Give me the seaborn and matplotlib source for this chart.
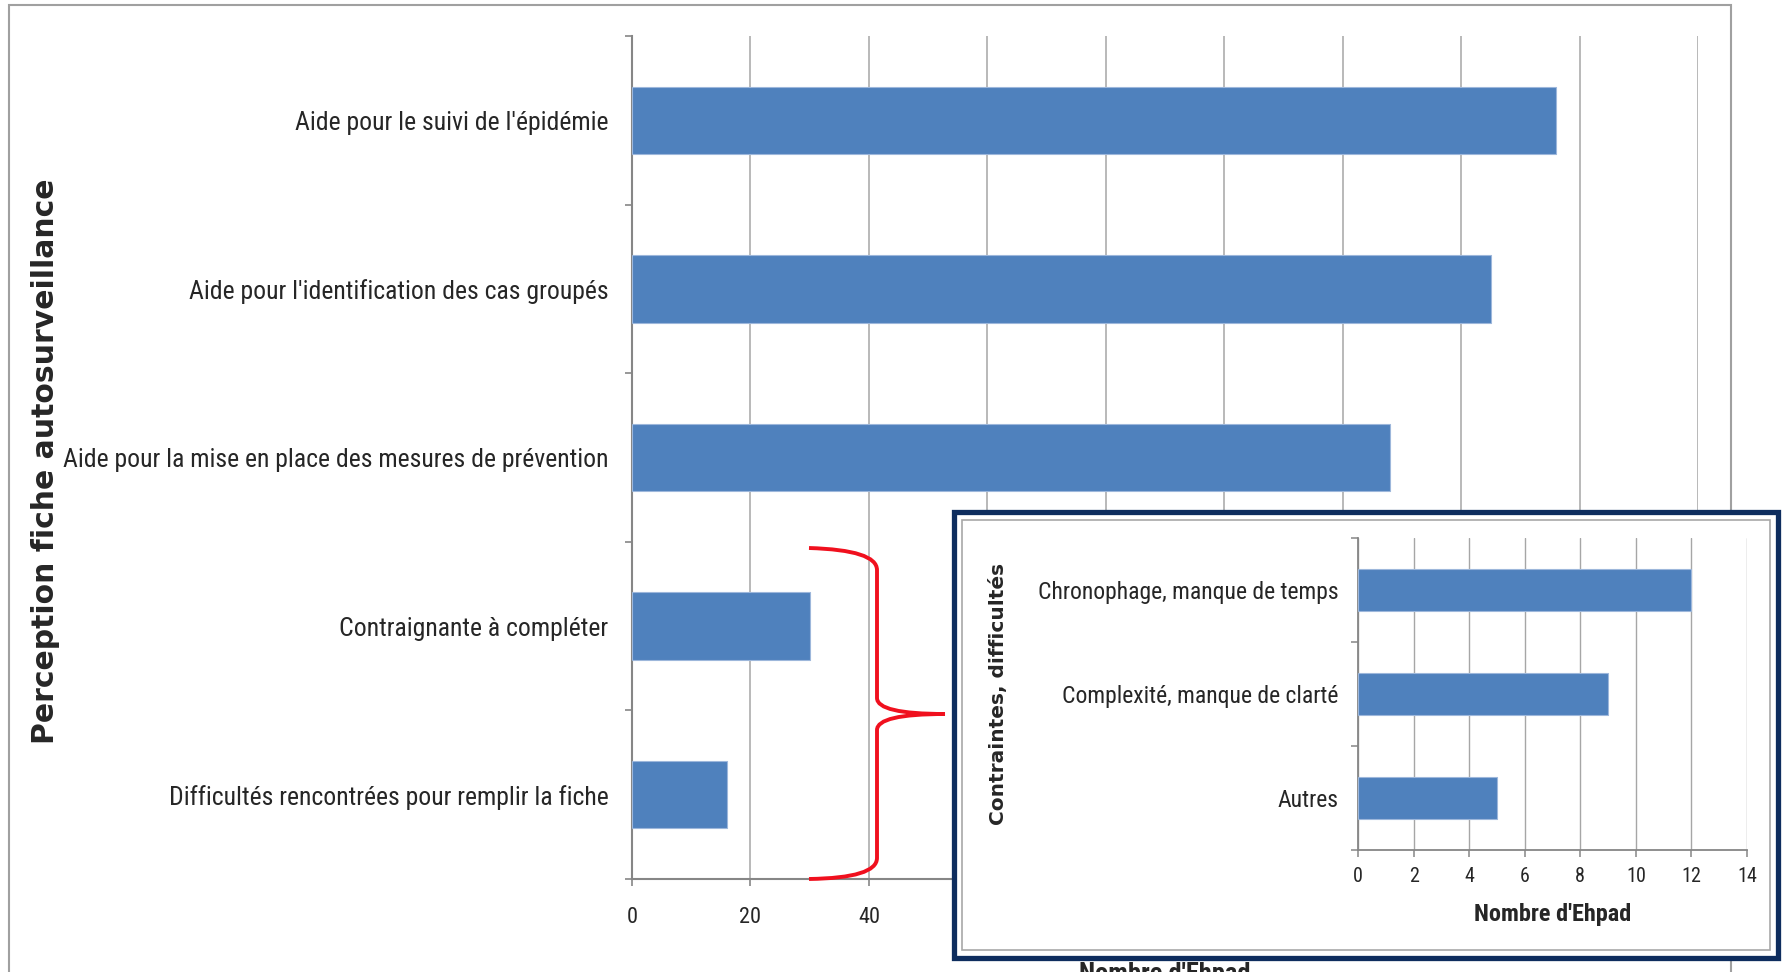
import matplotlib
matplotlib.use("Agg")
import matplotlib.pyplot as plt
from matplotlib import font_manager
from matplotlib.font_manager import FontProperties
from matplotlib.patches import Rectangle, PathPatch
from matplotlib.path import Path
from matplotlib.ticker import MultipleLocator, FixedLocator
import seaborn as sns

# ── data ──────────────────────────────────────────────────────────────────────
main_labels = [
    "Aide pour le suivi de l'épidémie",
    "Aide pour l'identification des cas groupés",
    "Aide pour la mise en place des mesures de prévention",
    "Contraignante à compléter",
    "Difficultés rencontrées pour remplir la fiche",
]
main_values = [156, 145, 128, 30, 16]

inset_labels = [
    "Chronophage, manque de temps",
    "Complexité, manque de clarté",
    "Autres",
]
inset_values = [12, 9, 5]

BAR = "#4F81BD"
GRID = "#A6A6A6"
AXC = "#868686"

W, H = 1785, 972

sns.set_style("white")
plt.rcParams["font.family"] = ["Liberation Sans", "DejaVu Sans"]


# ── look for a narrow / condensed face (Excel uses Calibri-like narrow text) ──
def _is_narrow(f):
    st = f.stretch
    if isinstance(st, str):
        return "condensed" in st or "Narrow" in f.name or "Condensed" in f.name
    return st < 500 or "Narrow" in f.name or "Condensed" in f.name


def _wt(f):
    w = f.weight
    if isinstance(w, str):
        return 700 if "bold" in w.lower() else 400
    return w


narrow = [f for f in font_manager.fontManager.ttflist
          if _is_narrow(f) and f.style == "normal"]
pref = ["Liberation Sans Narrow", "Roboto Condensed", "Open Sans Condensed",
        "Noto Sans", "DejaVu Sans", "Lato", "Inter"]


def pick(bold):
    best = None
    for name in pref + [None]:
        for f in narrow:
            if name is not None and not f.name.startswith(name):
                continue
            w = _wt(f)
            if (bold and 600 <= w <= 800) or (not bold and 350 <= w <= 450):
                return f.fname
            if best is None:
                best = f.fname
    return best


reg_file = pick(False)
bold_file = pick(True)
k = 1.0 if reg_file else 0.9


def fp(size, bold=False):
    f = bold_file if bold else reg_file
    if f:
        return FontProperties(fname=f, size=size)
    return FontProperties(family="Liberation Sans", size=size * k,
                          weight="bold" if bold else "normal")


def fx(px):
    return px / W


def fy(py):
    return 1 - py / H


fig = plt.figure(figsize=(W / 100, H / 100), dpi=100)

# outer chart frame
fig.patches.append(Rectangle((fx(9), fy(990)), fx(1731) - fx(9), fy(5) - fy(990),
                             transform=fig.transFigure, fill=False,
                             edgecolor="#A0A0A0", lw=1.5, zorder=0))

# ── main chart ────────────────────────────────────────────────────────────────
ax = fig.add_axes([fx(632), fy(879), fx(1698) - fx(632), fy(36) - fy(879)], zorder=0)
ax.patch.set_alpha(0)
sns.barplot(x=main_values, y=main_labels, orient="h", color=BAR, saturation=1,
            width=0.4, edgecolor="#9DB7DB", linewidth=0.8, ax=ax, zorder=3)
ax.set_xlim(0, 180)
ax.set_ylim(len(main_labels) - 0.5, -0.5)
ax.xaxis.set_major_locator(MultipleLocator(20))
ax.yaxis.set_minor_locator(FixedLocator([i - 0.5 for i in range(len(main_labels) + 1)]))
ax.grid(axis="x", color=GRID, lw=1.1, zorder=0)
ax.set_axisbelow(True)
for s in ["top", "right"]:
    ax.spines[s].set_visible(False)
for s in ["left", "bottom"]:
    ax.spines[s].set_color(AXC)
    ax.spines[s].set_linewidth(1.5)
ax.tick_params(axis="y", which="major", length=0, pad=17)
ax.tick_params(axis="y", which="minor", length=5, color=AXC, width=1.2, left=True)
ax.tick_params(axis="x", length=5, color=AXC, width=1.2, pad=15, bottom=True)
for t in ax.get_yticklabels():
    t.set_fontproperties(fp(18.5))
for t in ax.get_xticklabels():
    t.set_fontproperties(fp(16))
# the tick labels from 60 on sit under the inset box: hide them
for tick in ax.xaxis.get_major_ticks():
    if tick.get_loc() > 50:
        tick.label1.set_visible(False)
ax.set_ylabel("Perception fiche autosurveillance", fontsize=21.5, fontweight="bold",
              family="DejaVu Sans")
ax.yaxis.set_label_coords(-0.537, 0.496)
ax.set_xlabel("Nombre d'Ehpad", fontproperties=fp(19, bold=True), va="top")
ax.xaxis.set_label_coords(0.5, -0.098)

# red brace pointing to the inset
pts = [(809, 548), (877, 550), (877, 570), (877, 698), (877, 714), (945, 714),
       (877, 714), (877, 730), (877, 858), (877, 878), (809, 879)]
codes = [Path.MOVETO, Path.CURVE3, Path.CURVE3, Path.LINETO, Path.CURVE3, Path.CURVE3,
         Path.CURVE3, Path.CURVE3, Path.LINETO, Path.CURVE3, Path.CURVE3]
brace = Path([(fx(x), fy(y)) for x, y in pts], codes)
fig.patches.append(PathPatch(brace, transform=fig.transFigure, fill=False,
                             edgecolor="#F0101E", lw=2.8, zorder=1))

# ── inset frame ───────────────────────────────────────────────────────────────
fig.patches.append(Rectangle((fx(954), fy(958)), fx(1778) - fx(954), fy(512) - fy(958),
                             transform=fig.transFigure, facecolor="white",
                             edgecolor="#0E2D5E", lw=3.8, zorder=2))
fig.patches.append(Rectangle((fx(962), fy(950)), fx(1770) - fx(962), fy(520) - fy(950),
                             transform=fig.transFigure, fill=False,
                             edgecolor="#A8A8A8", lw=1.2, zorder=2.1))

# ── inset chart ───────────────────────────────────────────────────────────────
ax2 = fig.add_axes([fx(1358), fy(850), fx(1747) - fx(1358), fy(538) - fy(850)], zorder=3)
ax2.patch.set_alpha(0)
sns.barplot(x=inset_values, y=inset_labels, orient="h", color=BAR, saturation=1,
            width=0.4, edgecolor="#9DB7DB", linewidth=0.8, ax=ax2, zorder=3)
ax2.set_xlim(0, 14)
ax2.set_ylim(len(inset_labels) - 0.5, -0.5)
ax2.xaxis.set_major_locator(MultipleLocator(2))
ax2.yaxis.set_minor_locator(FixedLocator([i - 0.5 for i in range(len(inset_labels) + 1)]))
ax2.grid(axis="x", color=GRID, lw=1.0, zorder=0)
ax2.set_axisbelow(True)
for s in ["top", "right"]:
    ax2.spines[s].set_visible(False)
for s in ["left", "bottom"]:
    ax2.spines[s].set_color(AXC)
    ax2.spines[s].set_linewidth(1.3)
ax2.tick_params(axis="y", which="major", length=0, pad=14)
ax2.tick_params(axis="y", which="minor", length=5, color=AXC, width=1.1, left=True)
ax2.tick_params(axis="x", length=5, color=AXC, width=1.1, pad=7, bottom=True)
for t in ax2.get_yticklabels():
    t.set_fontproperties(fp(17))
for t in ax2.get_xticklabels():
    t.set_fontproperties(fp(14.5))
ax2.set_ylabel("Contraintes, difficultés", fontsize=14.5, fontweight="bold",
               family="DejaVu Sans")
ax2.yaxis.set_label_coords(-0.9, 0.5)
ax2.set_xlabel("Nombre d'Ehpad", fontproperties=fp(17.5, bold=True), va="top")
ax2.xaxis.set_label_coords(0.5, -0.17)

fig.savefig("out.png", dpi=100)
